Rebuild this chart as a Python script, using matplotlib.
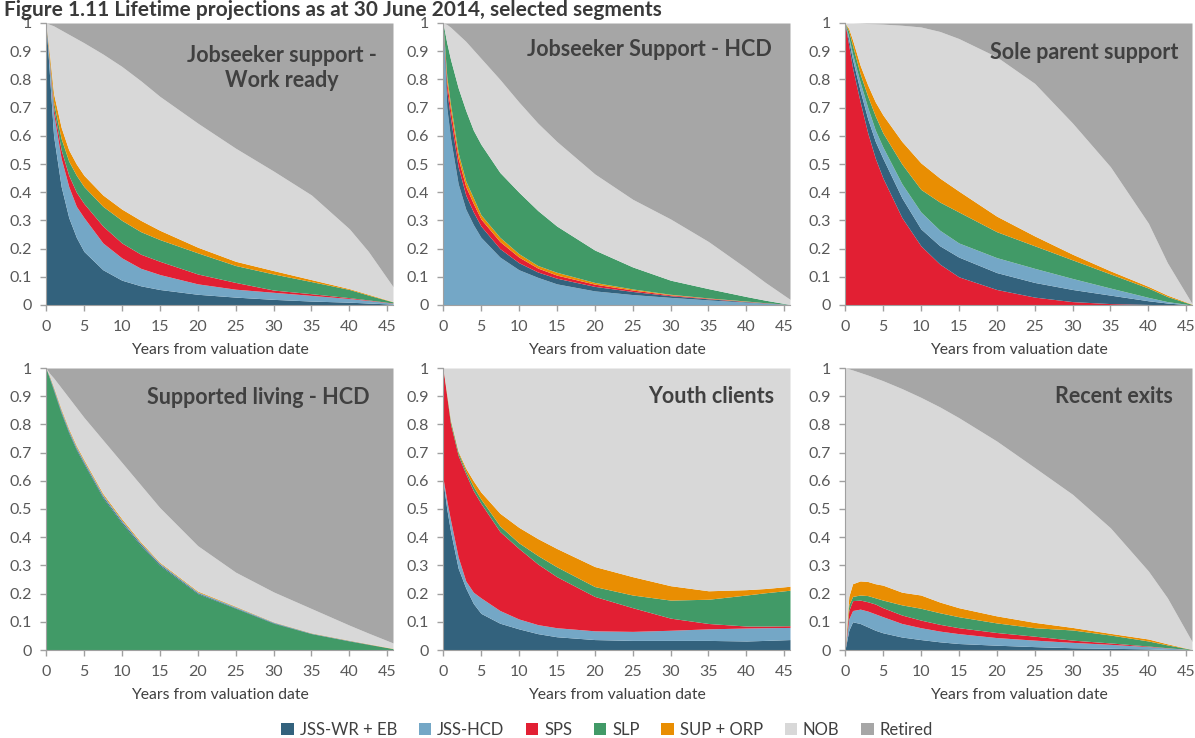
import matplotlib.pyplot as plt
from matplotlib.patches import Patch

plt.rcParams['font.family'] = ['Lato', 'DejaVu Sans']

years = [0, 0.5, 1, 2, 3, 4, 5, 7.5, 10, 12.5, 15, 20, 25, 30, 35, 40, 42.5, 45.75]

series = ["JSS-WR + EB", "JSS-HCD", "SPS", "SLP", "SUP + ORP", "NOB", "Retired"]
colours = {"JSS-WR + EB": "#33627d", "JSS-HCD": "#74a7c6", "SPS": "#e21f33",
           "SLP": "#419a67", "SUP + ORP": "#e98e02", "NOB": "#d8d8d8", "Retired": "#a6a6a6"}

# upper edge of each band (cumulative share), listed from the bottom band up;
# the Retired band always runs up to 1
jss_wr = [
    ("JSS-WR + EB", [1.0, .80, .60, .42, .31, .24, .19, .125, .088, .068, .055, .038, .028, .020, .014, .010, .007, .003]),
    ("JSS-HCD",     [1.0, .84, .68, .52, .42, .35, .31, .22, .167, .13, .108, .075, .056, .045, .034, .023, .016, .006]),
    ("SPS",         [1.0, .85, .70, .55, .46, .40, .36, .28, .22, .18, .155, .11, .08, .053, .04, .026, .018, .007]),
    ("SLP",         [1.0, .86, .72, .59, .51, .46, .42, .35, .30, .26, .232, .185, .14, .11, .083, .055, .035, .011]),
    ("SUP + ORP",   [1.0, .88, .75, .63, .55, .50, .46, .39, .34, .30, .265, .205, .155, .122, .09, .058, .038, .012]),
    ("NOB",         [1.0, .995, .99, .975, .96, .945, .93, .89, .846, .795, .74, .645, .556, .475, .39, .27, .19, .065]),
]

jss_hcd = [
    ("JSS-HCD",     [1.0, .70, .59, .43, .34, .285, .24, .17, .125, .098, .075, .05, .037, .027, .018, .01, .006, .002]),
    ("JSS-WR + EB", [1.0, .76, .66, .49, .39, .33, .28, .20, .15, .117, .095, .066, .048, .033, .022, .012, .007, .002]),
    ("SPS",         [1.0, .79, .69, .52, .42, .36, .305, .225, .17, .131, .106, .074, .053, .036, .024, .013, .008, .002]),
    ("SUP + ORP",   [1.0, .81, .71, .54, .44, .38, .32, .24, .182, .14, .116, .08, .057, .038, .025, .014, .008, .002]),
    ("SLP",         [1.0, .93, .87, .77, .69, .62, .57, .47, .40, .335, .28, .195, .135, .088, .058, .03, .017, .002]),
    ("NOB",         [1.0, .995, .985, .96, .935, .905, .875, .80, .72, .645, .58, .465, .375, .305, .225, .13, .08, .02]),
]

sps = [
    ("SPS",         [1.0, .92, .84, .72, .61, .52, .45, .31, .21, .145, .10, .055, .028, .012, .005, .002, .001, 0]),
    ("JSS-WR + EB", [1.0, .94, .87, .76, .66, .58, .52, .38, .27, .21, .17, .115, .08, .055, .035, .015, .007, 0]),
    ("JSS-HCD",     [1.0, .95, .89, .79, .70, .62, .56, .43, .33, .265, .22, .168, .13, .094, .06, .027, .012, 0]),
    ("SLP",         [1.0, .97, .92, .82, .74, .67, .61, .50, .41, .365, .33, .26, .21, .16, .11, .06, .03, .002]),
    ("SUP + ORP",   [1.0, .98, .94, .85, .78, .72, .674, .58, .504, .45, .404, .315, .245, .18, .121, .066, .035, .003]),
    ("NOB",         [1.0, 1.0, 1.0, .999, .998, .997, .996, .992, .986, .97, .945, .88, .786, .645, .49, .29, .15, .005]),
]

slp_hcd = [
    ("SLP",         [1.0, .96, .92, .84, .77, .71, .66, .54, .45, .37, .30, .20, .148, .095, .058, .032, .02, .005]),
    ("JSS-WR + EB", [1.0, .964, .925, .845, .775, .715, .665, .545, .455, .375, .304, .203, .15, .097, .059, .033, .021, .005]),
    ("JSS-HCD",     [1.0, .967, .929, .85, .78, .72, .67, .55, .46, .379, .308, .206, .153, .099, .06, .034, .021, .005]),
    ("SUP + ORP",   [1.0, .97, .933, .855, .785, .725, .675, .555, .465, .383, .311, .209, .155, .10, .061, .035, .022, .006]),
    ("NOB",         [1.0, .98, .965, .93, .895, .86, .825, .745, .665, .585, .505, .37, .276, .206, .147, .088, .06, .025]),
]

youth = [
    ("JSS-WR + EB", [.60, .50, .42, .29, .22, .165, .13, .095, .075, .058, .047, .037, .034, .034, .034, .032, .034, .037]),
    ("JSS-HCD",     [.61, .53, .46, .33, .245, .205, .185, .14, .11, .09, .079, .068, .066, .07, .075, .078, .079, .08]),
    ("SPS",         [1.0, .90, .80, .69, .625, .565, .52, .42, .36, .305, .26, .19, .15, .113, .094, .085, .085, .086]),
    ("SLP",         [1.0, .905, .81, .70, .635, .58, .535, .44, .38, .335, .295, .225, .195, .177, .18, .195, .203, .212]),
    ("SUP + ORP",   [1.0, .91, .815, .705, .645, .60, .56, .485, .435, .395, .36, .296, .26, .228, .21, .214, .218, .226]),
    ("NOB",         [1.0] * 18),
]

recent_exits = [
    ("JSS-WR + EB", [0, .07, .10, .094, .082, .07, .061, .046, .037, .029, .023, .017, .012, .008, .006, .004, .002, 0]),
    ("JSS-HCD",     [0, .11, .14, .145, .138, .128, .118, .094, .079, .067, .058, .044, .035, .027, .02, .012, .007, .001]),
    ("SPS",         [0, .14, .175, .177, .171, .163, .15, .124, .106, .091, .079, .062, .049, .035, .025, .014, .008, .001]),
    ("SLP",         [0, .16, .19, .195, .193, .185, .177, .16, .148, .132, .118, .096, .079, .071, .053, .032, .018, .002]),
    ("SUP + ORP",   [0, .19, .235, .245, .243, .235, .23, .205, .195, .17, .15, .121, .098, .08, .059, .039, .022, .002]),
    ("NOB",         [1.0, .997, .993, .984, .975, .965, .955, .927, .896, .862, .824, .741, .647, .552, .433, .28, .185, .03]),
]

panels = [jss_wr, jss_hcd, sps, slp_hcd, youth, recent_exits]
titles = ["Jobseeker support -\nWork ready", "Jobseeker Support - HCD", "Sole parent support",
          "Supported living - HCD", "Youth clients", "Recent exits"]

W, H = 1195, 738
fig = plt.figure(figsize=(W / 100, H / 100), dpi=100)

fig.text(0.003, 1 - 15.5 / H, "Figure 1.11 Lifetime projections as at 30 June 2014, selected segments",
         fontsize=15, fontweight='bold', color='#3a3a3a', va='baseline', ha='left')

lefts = [46, 443, 845]
tops = [23, 368]
aw, ah = 347, 282
# where each panel label sits (axes fraction) and how it is aligned
title_pos = [(0.68, 0.84, 'center'), (0.948, 0.905, 'right'), (0.96, 0.895, 'right'),
             (0.934, 0.895, 'right'), (0.954, 0.9, 'right'), (0.945, 0.9, 'right')]

for i, (bands, title) in enumerate(zip(panels, titles)):
    l = lefts[i % 3]
    t = tops[i // 3]
    ax = fig.add_axes([l / W, 1 - (t + ah) / H, aw / W, ah / H])
    below = [0] * len(years)
    for name, top in bands:
        ax.fill_between(years, below, top, color=colours[name], linewidth=0)
        below = top
    ax.fill_between(years, below, [1] * len(years), color=colours["Retired"], linewidth=0)

    ax.set_xlim(0, 45.75)
    ax.set_ylim(0, 1)
    ax.set_xticks(range(0, 46, 5))
    yt = [k / 10 for k in range(11)]
    ax.set_yticks(yt)
    ax.set_yticklabels([f"{v:g}" for v in yt])
    ax.tick_params(axis='both', colors='#a0a0a0', labelcolor='#595959', labelsize=11.5,
                   length=4, width=1)
    ax.tick_params(axis='y', pad=6)
    ax.tick_params(axis='x', pad=7)
    for s in ['top', 'right']:
        ax.spines[s].set_visible(False)
    for s in ['left', 'bottom']:
        ax.spines[s].set_color('#a0a0a0')
    ax.set_xlabel("Years from valuation date", fontsize=11.3, color='#404040', labelpad=6)

    tx, ty, ha = title_pos[i]
    ax.text(tx, ty, title, transform=ax.transAxes, ha=ha, va='center', multialignment='center',
            fontsize=15.5, fontweight='bold', color='#404040', linespacing=1.2)

handles = [Patch(facecolor=colours[s], edgecolor='none', label=s) for s in series]
fig.legend(handles=handles, loc='center', bbox_to_anchor=(607 / W, 1 - 730 / H), ncol=7,
           frameon=False, fontsize=12, handlelength=0.75, handleheight=0.75,
           handletextpad=0.35, columnspacing=1.3, labelcolor='#404040')

fig.savefig("out.png", dpi=100)
